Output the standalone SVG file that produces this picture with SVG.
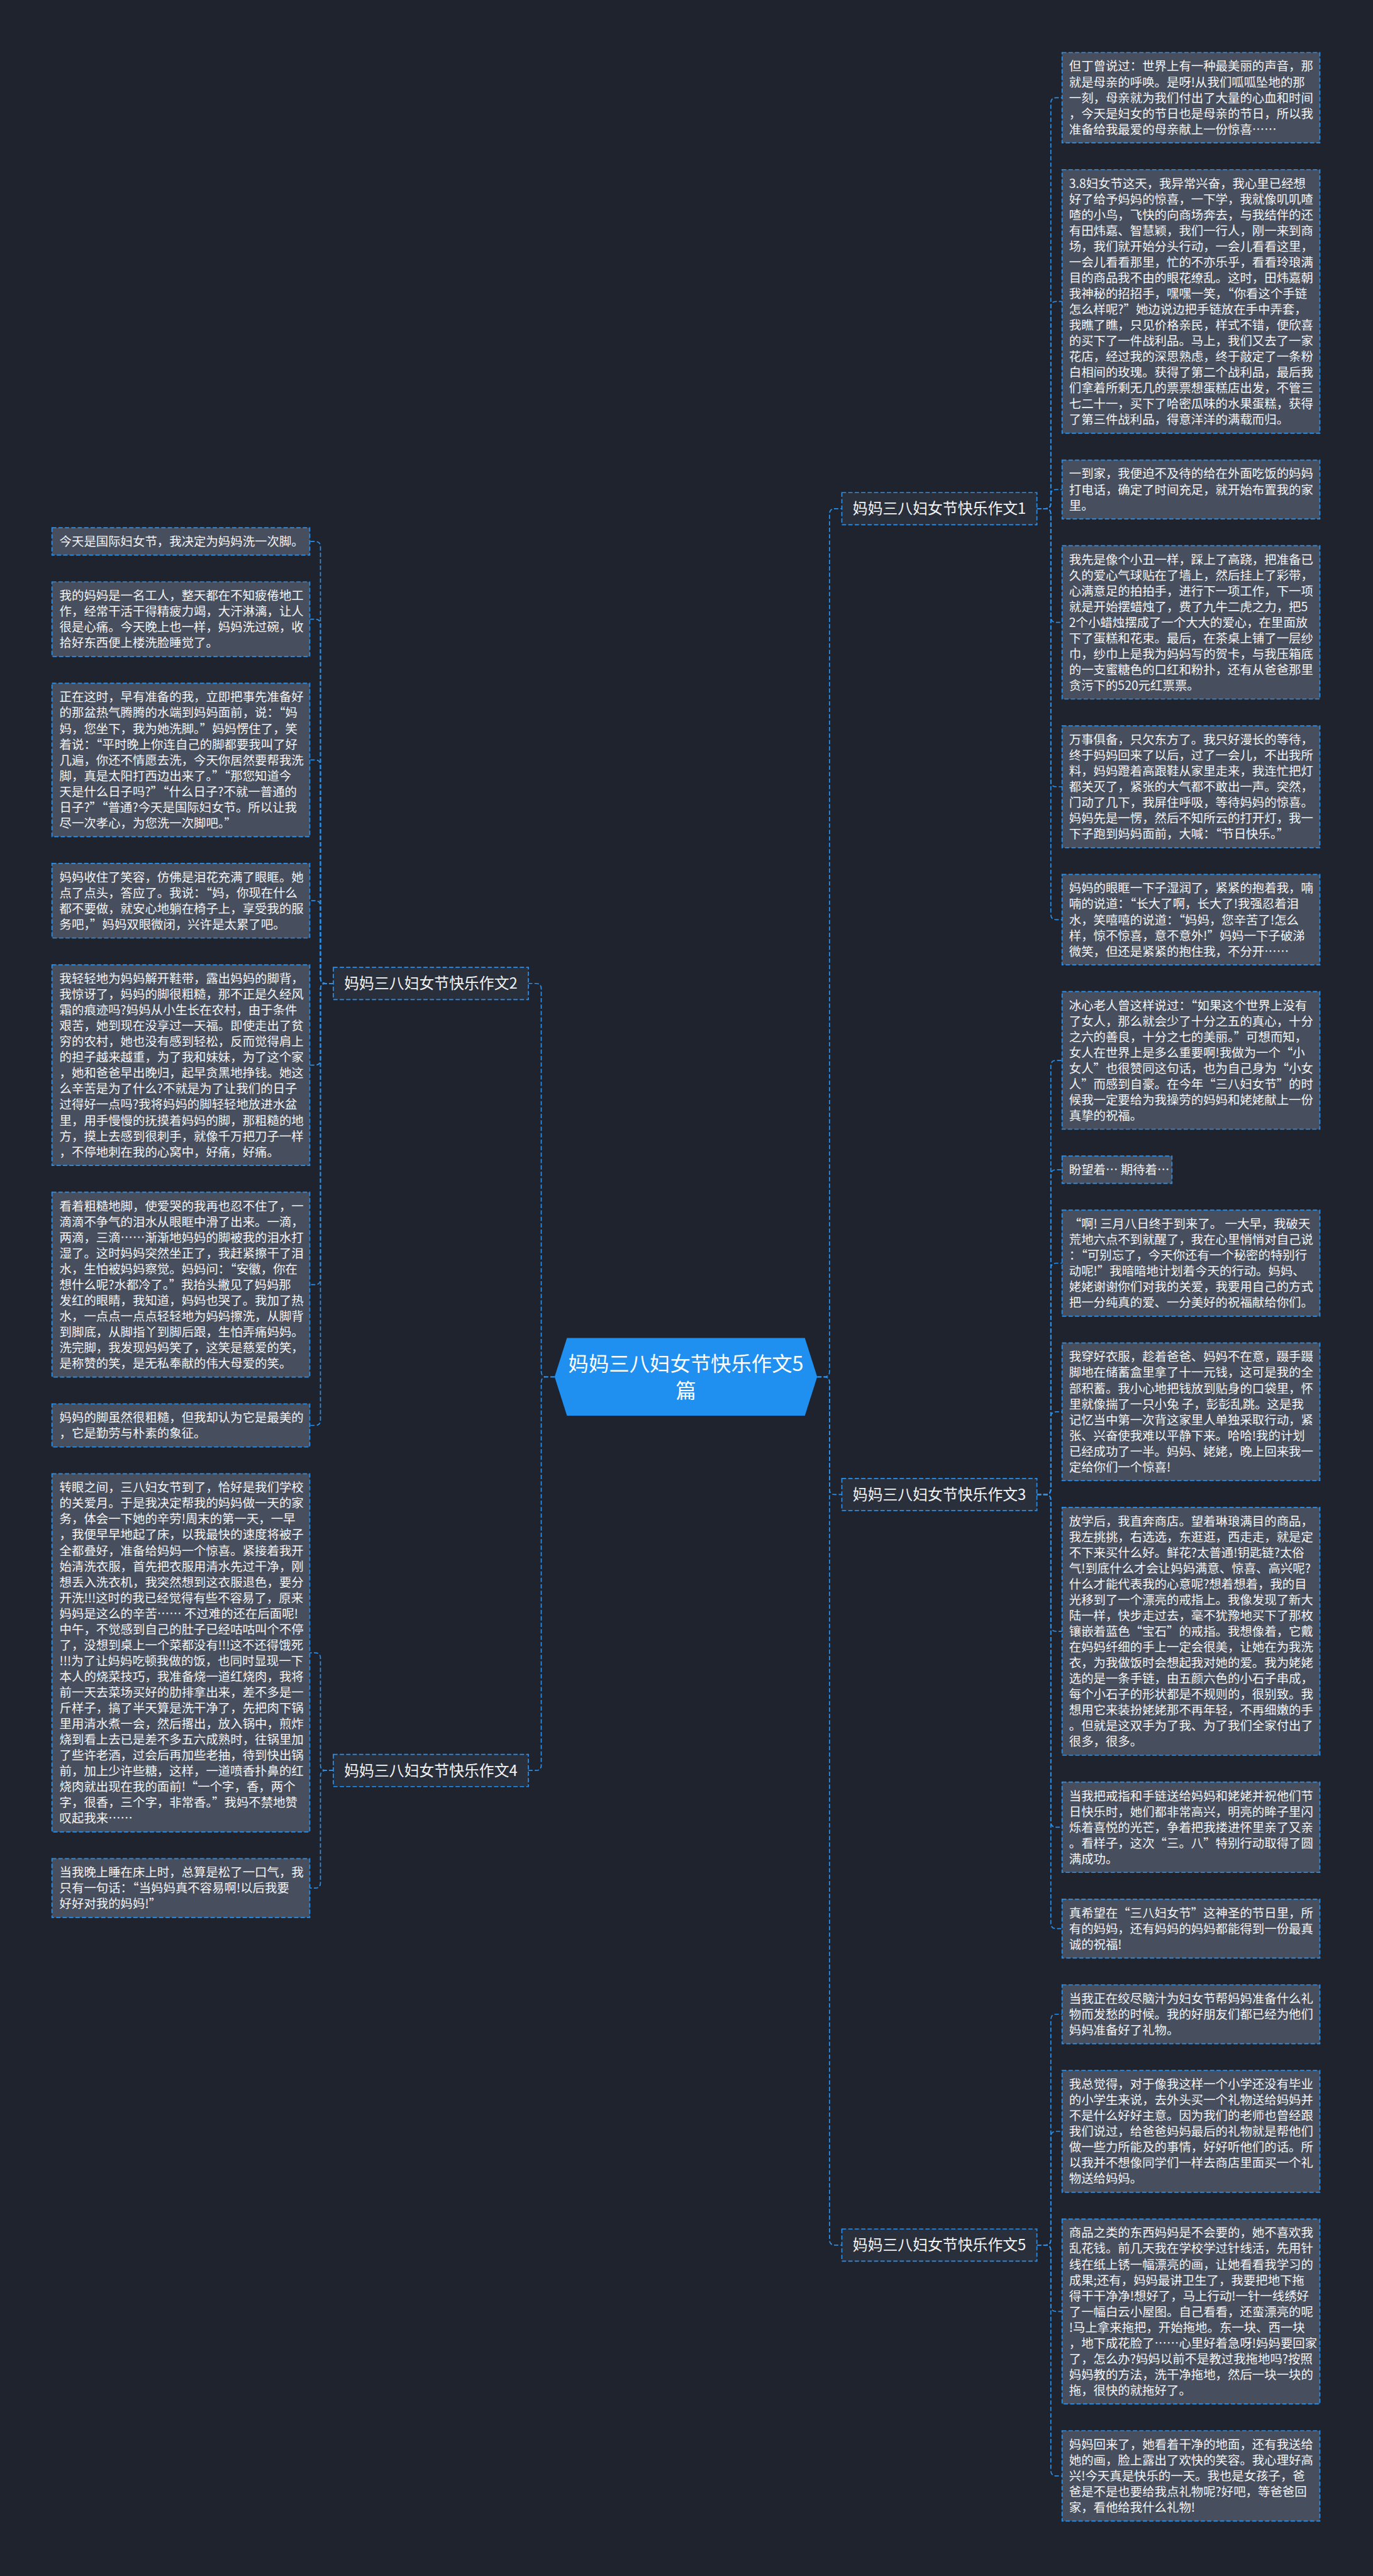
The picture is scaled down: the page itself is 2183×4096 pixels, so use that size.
<svg xmlns="http://www.w3.org/2000/svg" width="2183" height="4096" viewBox="0 0 2183 4096">
<style>
.leaf{fill:#474f5f;stroke:#2d8fe6;stroke-width:2;stroke-dasharray:8 4}
.lt{fill:#f4f4f4;font-size:22.8px;font-family:"Noto Sans CJK SC","Noto Sans",sans-serif}
.conn{fill:none;stroke:#2d8fe6;stroke-width:2;stroke-dasharray:8 4}
.br{fill:#2a2f3c;stroke:#2d8fe6;stroke-width:2;stroke-dasharray:8 4}
.bt{fill:#f4f4f4;font-size:28px;font-family:"Noto Sans CJK SC","Noto Sans",sans-serif;text-anchor:middle}
.ct{fill:#ffffff;font-size:38px;font-family:"Noto Sans CJK SC","Noto Sans",sans-serif;text-anchor:middle}
</style>
<rect width="2183" height="4096" fill="#1f232e"/>
<g transform="scale(0.852)">
<g id="connectors">
<path class="conn" d="M1525 2569.6H1538Q1548 2569.6 1548 2559.6V959.3Q1548 949.3 1558 949.3H1571"/>
<path class="conn" d="M1525 2569.6H1538Q1548 2569.6 1548 2579.6V2779.2Q1548 2789.2 1558 2789.2H1571"/>
<path class="conn" d="M1525 2569.6H1538Q1548 2569.6 1548 2579.6V4179.9Q1548 4189.9 1558 4189.9H1571"/>
<path class="conn" d="M1035 2569.6H1020Q1010 2569.6 1010 2559.6V1845.4Q1010 1835.4 1000 1835.4H986"/>
<path class="conn" d="M1035 2569.6H1020Q1010 2569.6 1010 2579.6V3294.2Q1010 3304.2 1000 3304.2H986"/>
<path class="conn" d="M1935 949.3H1951Q1961 949.3 1961 939.3V192.3Q1961 182.3 1971 182.3H1982"/>
<path class="conn" d="M1935 949.3H1951Q1961 949.3 1961 939.3V572.6Q1961 562.6 1971 562.6H1982"/>
<path class="conn" d="M1935 949.3H1951Q1961 949.3 1961 939.3V923.5Q1961 913.5 1971 913.5H1982"/>
<path class="conn" d="M1935 949.3H1951Q1961 949.3 1961 959.3V1151.5Q1961 1161.5 1971 1161.5H1982"/>
<path class="conn" d="M1935 949.3H1951Q1961 949.3 1961 959.3V1458.3Q1961 1468.3 1971 1468.3H1982"/>
<path class="conn" d="M1935 949.3H1951Q1961 949.3 1961 959.3V1706.3Q1961 1716.3 1971 1716.3H1982"/>
<path class="conn" d="M1935 2789.2H1951Q1961 2789.2 1961 2779.2V1989Q1961 1979 1971 1979H1982"/>
<path class="conn" d="M1935 2789.2H1951Q1961 2789.2 1961 2779.2V2192.9Q1961 2182.9 1971 2182.9H1982"/>
<path class="conn" d="M1935 2789.2H1951Q1961 2789.2 1961 2779.2V2367.4Q1961 2357.4 1971 2357.4H1982"/>
<path class="conn" d="M1935 2789.2H1951Q1961 2789.2 1961 2779.2V2644.8Q1961 2634.8 1971 2634.8H1982"/>
<path class="conn" d="M1935 2789.2H1951Q1961 2789.2 1961 2799.2V3034.5Q1961 3044.5 1971 3044.5H1982"/>
<path class="conn" d="M1935 2789.2H1951Q1961 2789.2 1961 2799.2V3400.1Q1961 3410.1 1971 3410.1H1982"/>
<path class="conn" d="M1935 2789.2H1951Q1961 2789.2 1961 2799.2V3589.3Q1961 3599.3 1971 3599.3H1982"/>
<path class="conn" d="M1935 4189.9H1951Q1961 4189.9 1961 4179.9V3769.1Q1961 3759.1 1971 3759.1H1982"/>
<path class="conn" d="M1935 4189.9H1951Q1961 4189.9 1961 4179.9V3987.7Q1961 3977.7 1971 3977.7H1982"/>
<path class="conn" d="M1935 4189.9H1951Q1961 4189.9 1961 4199.9V4303.9Q1961 4313.9 1971 4313.9H1982"/>
<path class="conn" d="M1935 4189.9H1951Q1961 4189.9 1961 4199.9V4610.7Q1961 4620.7 1971 4620.7H1982"/>
<path class="conn" d="M622 1835.4H608Q598 1835.4 598 1825.4V1020.5Q598 1010.5 588 1010.5H578"/>
<path class="conn" d="M622 1835.4H608Q598 1835.4 598 1825.4V1165.6Q598 1155.6 588 1155.6H578"/>
<path class="conn" d="M622 1835.4H608Q598 1835.4 598 1825.4V1428.3Q598 1418.3 588 1418.3H578"/>
<path class="conn" d="M622 1835.4H608Q598 1835.4 598 1825.4V1691Q598 1681 588 1681H578"/>
<path class="conn" d="M622 1835.4H608Q598 1835.4 598 1845.4V1977.8Q598 1987.8 588 1987.8H578"/>
<path class="conn" d="M622 1835.4H608Q598 1835.4 598 1845.4V2387.5Q598 2397.5 588 2397.5H578"/>
<path class="conn" d="M622 1835.4H608Q598 1835.4 598 1845.4V2650.2Q598 2660.2 588 2660.2H578"/>
<path class="conn" d="M622 3304.2H608Q598 3304.2 598 3294.2V3094.6Q598 3084.6 588 3084.6H578"/>
<path class="conn" d="M622 3304.2H608Q598 3304.2 598 3314.2V3513.7Q598 3523.7 588 3523.7H578"/>
</g>
<g id="center">
<polygon points="1035,2569.6 1058,2497 1502,2497 1525,2569.6 1502,2642 1058,2642" fill="#1f8ff0"/>
<text class="ct" x="1280" y="2559">妈妈三八妇女节快乐作文5</text>
<text class="ct" x="1280" y="2609">篇</text>
</g>
<g id="branch1"><rect class="br" x="1571" y="919.3" width="364" height="60"/><text class="bt" x="1753" y="959.3">妈妈三八妇女节快乐作文1</text></g>
<g id="branch2"><rect class="br" x="622" y="1805.4" width="364" height="60"/><text class="bt" x="804" y="1845.4">妈妈三八妇女节快乐作文2</text></g>
<g id="branch3"><rect class="br" x="1571" y="2759.2" width="364" height="60"/><text class="bt" x="1753" y="2799.2">妈妈三八妇女节快乐作文3</text></g>
<g id="branch4"><rect class="br" x="622" y="3274.2" width="364" height="60"/><text class="bt" x="804" y="3314.2">妈妈三八妇女节快乐作文4</text></g>
<g id="branch5"><rect class="br" x="1571" y="4159.9" width="364" height="60"/><text class="bt" x="1753" y="4199.9">妈妈三八妇女节快乐作文5</text></g>

<g id="r1"><rect class="leaf" x="1982" y="98" width="481" height="168.6"/><text class="lt" x="1995" y="132"><tspan>但丁曾说过：世界上有一种最美丽的声音，那</tspan><tspan x="1995" dy="29.4">就是母亲的呼唤。是呀!从我们呱呱坠地的那</tspan><tspan x="1995" dy="29.4">一刻，母亲就为我们付出了大量的心血和时间</tspan><tspan x="1995" dy="29.4">，今天是妇女的节日也是母亲的节日，所以我</tspan><tspan x="1995" dy="29.4">准备给我最爱的母亲献上一份惊喜……</tspan></text></g>
<g id="r2"><rect class="leaf" x="1982" y="316.6" width="481" height="492"/><text class="lt" x="1995" y="350.6"><tspan>3.8妇女节这天，我异常兴奋，我心里已经想</tspan><tspan x="1995" dy="29.4">好了给予妈妈的惊喜，一下学，我就像叽叽喳</tspan><tspan x="1995" dy="29.4">喳的小鸟，飞快的向商场奔去，与我结伴的还</tspan><tspan x="1995" dy="29.4">有田炜嘉、智慧颖，我们一行人，刚一来到商</tspan><tspan x="1995" dy="29.4">场，我们就开始分头行动，一会儿看看这里，</tspan><tspan x="1995" dy="29.4">一会儿看看那里，忙的不亦乐乎，看看玲琅满</tspan><tspan x="1995" dy="29.4">目的商品我不由的眼花缭乱。这时，田炜嘉朝</tspan><tspan x="1995" dy="29.4">我神秘的招招手，嘿嘿一笑，“你看这个手链</tspan><tspan x="1995" dy="29.4">怎么样呢?”她边说边把手链放在手中弄套，</tspan><tspan x="1995" dy="29.4">我瞧了瞧，只见价格亲民，样式不错，便欣喜</tspan><tspan x="1995" dy="29.4">的买下了一件战利品。马上，我们又去了一家</tspan><tspan x="1995" dy="29.4">花店，经过我的深思熟虑，终于敲定了一条粉</tspan><tspan x="1995" dy="29.4">白相间的玫瑰。获得了第二个战利品，最后我</tspan><tspan x="1995" dy="29.4">们拿着所剩无几的票票想蛋糕店出发，不管三</tspan><tspan x="1995" dy="29.4">七二十一，买下了哈密瓜味的水果蛋糕，获得</tspan><tspan x="1995" dy="29.4">了第三件战利品，得意洋洋的满载而归。</tspan></text></g>
<g id="r3"><rect class="leaf" x="1982" y="858.6" width="481" height="109.8"/><text class="lt" x="1995" y="892.6"><tspan>一到家，我便迫不及待的给在外面吃饭的妈妈</tspan><tspan x="1995" dy="29.4">打电话，确定了时间充足，就开始布置我的家</tspan><tspan x="1995" dy="29.4">里。</tspan></text></g>
<g id="r4"><rect class="leaf" x="1982" y="1018.4" width="481" height="286.2"/><text class="lt" x="1995" y="1052.4"><tspan>我先是像个小丑一样，踩上了高跷，把准备已</tspan><tspan x="1995" dy="29.4">久的爱心气球贴在了墙上，然后挂上了彩带，</tspan><tspan x="1995" dy="29.4">心满意足的拍拍手，进行下一项工作，下一项</tspan><tspan x="1995" dy="29.4">就是开始摆蜡烛了，费了九牛二虎之力，把5</tspan><tspan x="1995" dy="29.4">2个小蜡烛摆成了一个大大的爱心，在里面放</tspan><tspan x="1995" dy="29.4">下了蛋糕和花束。最后，在茶桌上铺了一层纱</tspan><tspan x="1995" dy="29.4">巾，纱巾上是我为妈妈写的贺卡，与我压箱底</tspan><tspan x="1995" dy="29.4">的一支蜜糖色的口红和粉扑，还有从爸爸那里</tspan><tspan x="1995" dy="29.4">贪污下的520元红票票。</tspan></text></g>
<g id="r5"><rect class="leaf" x="1982" y="1354.6" width="481" height="227.4"/><text class="lt" x="1995" y="1388.6"><tspan>万事俱备，只欠东方了。我只好漫长的等待，</tspan><tspan x="1995" dy="29.4">终于妈妈回来了以后，过了一会儿，不出我所</tspan><tspan x="1995" dy="29.4">料，妈妈蹬着高跟鞋从家里走来，我连忙把灯</tspan><tspan x="1995" dy="29.4">都关灭了，紧张的大气都不敢出一声。突然，</tspan><tspan x="1995" dy="29.4">门动了几下，我屏住呼吸，等待妈妈的惊喜。</tspan><tspan x="1995" dy="29.4">妈妈先是一愣，然后不知所云的打开灯，我一</tspan><tspan x="1995" dy="29.4">下子跑到妈妈面前，大喊：“节日快乐。”</tspan></text></g>
<g id="r6"><rect class="leaf" x="1982" y="1632" width="481" height="168.6"/><text class="lt" x="1995" y="1666"><tspan>妈妈的眼眶一下子湿润了，紧紧的抱着我，喃</tspan><tspan x="1995" dy="29.4">喃的说道：“长大了啊，长大了!我强忍着泪</tspan><tspan x="1995" dy="29.4">水，笑嘻嘻的说道：“妈妈，您辛苦了!怎么</tspan><tspan x="1995" dy="29.4">样，惊不惊喜，意不意外!”妈妈一下子破涕</tspan><tspan x="1995" dy="29.4">微笑，但还是紧紧的抱住我，不分开……</tspan></text></g>
<g id="r7"><rect class="leaf" x="1982" y="1850.6" width="481" height="256.8"/><text class="lt" x="1995" y="1884.6"><tspan>冰心老人曾这样说过：“如果这个世界上没有</tspan><tspan x="1995" dy="29.4">了女人，那么就会少了十分之五的真心，十分</tspan><tspan x="1995" dy="29.4">之六的善良，十分之七的美丽。”可想而知，</tspan><tspan x="1995" dy="29.4">女人在世界上是多么重要啊!我做为一个“小</tspan><tspan x="1995" dy="29.4">女人”也很赞同这句话，也为自己身为“小女</tspan><tspan x="1995" dy="29.4">人”而感到自豪。在今年“三八妇女节”的时</tspan><tspan x="1995" dy="29.4">候我一定要给为我操劳的妈妈和姥姥献上一份</tspan><tspan x="1995" dy="29.4">真挚的祝福。</tspan></text></g>
<g id="r8"><rect class="leaf" x="1982" y="2157.4" width="205" height="51"/><text class="lt" x="1995" y="2191.4">盼望着… 期待着…</text></g>
<g id="r9"><rect class="leaf" x="1982" y="2258.4" width="481" height="198"/><text class="lt" x="1995" y="2292.4"><tspan>“啊! 三月八日终于到来了。 一大早，我破天</tspan><tspan x="1995" dy="29.4">荒地六点不到就醒了，我在心里悄悄对自己说</tspan><tspan x="1995" dy="29.4">：“可别忘了，今天你还有一个秘密的特别行</tspan><tspan x="1995" dy="29.4">动呢!”我暗暗地计划着今天的行动。妈妈、</tspan><tspan x="1995" dy="29.4">姥姥谢谢你们对我的关爱，我要用自己的方式</tspan><tspan x="1995" dy="29.4">把一分纯真的爱、一分美好的祝福献给你们。</tspan></text></g>
<g id="r10"><rect class="leaf" x="1982" y="2506.4" width="481" height="256.8"/><text class="lt" x="1995" y="2540.4"><tspan>我穿好衣服，趁着爸爸、妈妈不在意，蹑手蹑</tspan><tspan x="1995" dy="29.4">脚地在储蓄盒里拿了十一元钱，这可是我的全</tspan><tspan x="1995" dy="29.4">部积蓄。我小心地把钱放到贴身的口袋里，怀</tspan><tspan x="1995" dy="29.4">里就像揣了一只小兔 子，彭彭乱跳。这是我</tspan><tspan x="1995" dy="29.4">记忆当中第一次背这家里人单独采取行动，紧</tspan><tspan x="1995" dy="29.4">张、兴奋使我难以平静下来。哈哈!我的计划</tspan><tspan x="1995" dy="29.4">已经成功了一半。妈妈、姥姥，晚上回来我一</tspan><tspan x="1995" dy="29.4">定给你们一个惊喜!</tspan></text></g>
<g id="r11"><rect class="leaf" x="1982" y="2813.2" width="481" height="462.6"/><text class="lt" x="1995" y="2847.2"><tspan>放学后，我直奔商店。望着琳琅满目的商品，</tspan><tspan x="1995" dy="29.4">我左挑挑，右选选，东逛逛，西走走，就是定</tspan><tspan x="1995" dy="29.4">不下来买什么好。鲜花?太普通!钥匙链?太俗</tspan><tspan x="1995" dy="29.4">气!到底什么才会让妈妈满意、惊喜、高兴呢?</tspan><tspan x="1995" dy="29.4">什么才能代表我的心意呢?想着想着，我的目</tspan><tspan x="1995" dy="29.4">光移到了一个漂亮的戒指上。我像发现了新大</tspan><tspan x="1995" dy="29.4">陆一样，快步走过去，毫不犹豫地买下了那枚</tspan><tspan x="1995" dy="29.4">镶嵌着蓝色“宝石”的戒指。我想像着，它戴</tspan><tspan x="1995" dy="29.4">在妈妈纤细的手上一定会很美，让她在为我洗</tspan><tspan x="1995" dy="29.4">衣，为我做饭时会想起我对她的爱。我为姥姥</tspan><tspan x="1995" dy="29.4">选的是一条手链，由五颜六色的小石子串成，</tspan><tspan x="1995" dy="29.4">每个小石子的形状都是不规则的，很别致。我</tspan><tspan x="1995" dy="29.4">想用它来装扮姥姥那不再年轻，不再细嫩的手</tspan><tspan x="1995" dy="29.4">。但就是这双手为了我、为了我们全家付出了</tspan><tspan x="1995" dy="29.4">很多，很多。</tspan></text></g>
<g id="r12"><rect class="leaf" x="1982" y="3325.8" width="481" height="168.6"/><text class="lt" x="1995" y="3359.8"><tspan>当我把戒指和手链送给妈妈和姥姥并祝他们节</tspan><tspan x="1995" dy="29.4">日快乐时，她们都非常高兴，明亮的眸子里闪</tspan><tspan x="1995" dy="29.4">烁着喜悦的光芒，争着把我搂进怀里亲了又亲</tspan><tspan x="1995" dy="29.4">。看样子，这次“三。八”特别行动取得了圆</tspan><tspan x="1995" dy="29.4">满成功。</tspan></text></g>
<g id="r13"><rect class="leaf" x="1982" y="3544.4" width="481" height="109.8"/><text class="lt" x="1995" y="3578.4"><tspan>真希望在“三八妇女节”这神圣的节日里，所</tspan><tspan x="1995" dy="29.4">有的妈妈，还有妈妈的妈妈都能得到一份最真</tspan><tspan x="1995" dy="29.4">诚的祝福!</tspan></text></g>
<g id="r14"><rect class="leaf" x="1982" y="3704.2" width="481" height="109.8"/><text class="lt" x="1995" y="3738.2"><tspan>当我正在绞尽脑汁为妇女节帮妈妈准备什么礼</tspan><tspan x="1995" dy="29.4">物而发愁的时候。我的好朋友们都已经为他们</tspan><tspan x="1995" dy="29.4">妈妈准备好了礼物。</tspan></text></g>
<g id="r15"><rect class="leaf" x="1982" y="3864" width="481" height="227.4"/><text class="lt" x="1995" y="3898"><tspan>我总觉得，对于像我这样一个小学还没有毕业</tspan><tspan x="1995" dy="29.4">的小学生来说，去外头买一个礼物送给妈妈并</tspan><tspan x="1995" dy="29.4">不是什么好好主意。因为我们的老师也曾经跟</tspan><tspan x="1995" dy="29.4">我们说过，给爸爸妈妈最后的礼物就是帮他们</tspan><tspan x="1995" dy="29.4">做一些力所能及的事情，好好听他们的话。所</tspan><tspan x="1995" dy="29.4">以我并不想像同学们一样去商店里面买一个礼</tspan><tspan x="1995" dy="29.4">物送给妈妈。</tspan></text></g>
<g id="r16"><rect class="leaf" x="1982" y="4141.4" width="481" height="345"/><text class="lt" x="1995" y="4175.4"><tspan>商品之类的东西妈妈是不会要的，她不喜欢我</tspan><tspan x="1995" dy="29.4">乱花钱。前几天我在学校学过针线活，先用针</tspan><tspan x="1995" dy="29.4">线在纸上锈一幅漂亮的画，让她看看我学习的</tspan><tspan x="1995" dy="29.4">成果;还有，妈妈最讲卫生了，我要把地下拖</tspan><tspan x="1995" dy="29.4">得干干净净!想好了，马上行动!一针一线绣好</tspan><tspan x="1995" dy="29.4">了一幅白云小屋图。自己看看，还蛮漂亮的呢</tspan><tspan x="1995" dy="29.4">!马上拿来拖把，开始拖地。东一块、西一块</tspan><tspan x="1995" dy="29.4">，地下成花脸了……心里好着急呀!妈妈要回家</tspan><tspan x="1995" dy="29.4">了，怎么办?妈妈以前不是教过我拖地吗?按照</tspan><tspan x="1995" dy="29.4">妈妈教的方法，洗干净拖地，然后一块一块的</tspan><tspan x="1995" dy="29.4">拖，很快的就拖好了。</tspan></text></g>
<g id="r17"><rect class="leaf" x="1982" y="4536.4" width="481" height="168.6"/><text class="lt" x="1995" y="4570.4"><tspan>妈妈回来了，她看着干净的地面，还有我送给</tspan><tspan x="1995" dy="29.4">她的画，脸上露出了欢快的笑容。我心理好高</tspan><tspan x="1995" dy="29.4">兴!今天真是快乐的一天。我也是女孩子，爸</tspan><tspan x="1995" dy="29.4">爸是不是也要给我点礼物呢?好吧，等爸爸回</tspan><tspan x="1995" dy="29.4">家，看他给我什么礼物!</tspan></text></g>

<g id="l1"><rect class="leaf" x="97" y="985" width="481" height="51"/><text class="lt" x="111" y="1019">今天是国际妇女节，我决定为妈妈洗一次脚。</text></g>
<g id="l2"><rect class="leaf" x="97" y="1086" width="481" height="139.2"/><text class="lt" x="111" y="1120"><tspan>我的妈妈是一名工人，整天都在不知疲倦地工</tspan><tspan x="111" dy="29.4">作，经常干活干得精疲力竭，大汗淋漓，让人</tspan><tspan x="111" dy="29.4">很是心痛。今天晚上也一样，妈妈洗过碗，收</tspan><tspan x="111" dy="29.4">拾好东西便上楼洗脸睡觉了。</tspan></text></g>
<g id="l3"><rect class="leaf" x="97" y="1275.2" width="481" height="286.2"/><text class="lt" x="111" y="1309.2"><tspan>正在这时，早有准备的我，立即把事先准备好</tspan><tspan x="111" dy="29.4">的那盆热气腾腾的水端到妈妈面前，说：“妈</tspan><tspan x="111" dy="29.4">妈，您坐下，我为她洗脚。”妈妈愣住了，笑</tspan><tspan x="111" dy="29.4">着说：“平时晚上你连自己的脚都要我叫了好</tspan><tspan x="111" dy="29.4">几遍，你还不情愿去洗，今天你居然要帮我洗</tspan><tspan x="111" dy="29.4">脚，真是太阳打西边出来了。”“那您知道今</tspan><tspan x="111" dy="29.4">天是什么日子吗?”“什么日子?不就一普通的</tspan><tspan x="111" dy="29.4">日子?”“普通?今天是国际妇女节。所以让我</tspan><tspan x="111" dy="29.4">尽一次孝心，为您洗一次脚吧。”</tspan></text></g>
<g id="l4"><rect class="leaf" x="97" y="1611.4" width="481" height="139.2"/><text class="lt" x="111" y="1645.4"><tspan>妈妈收住了笑容，仿佛是泪花充满了眼眶。她</tspan><tspan x="111" dy="29.4">点了点头，答应了。我说：“妈，你现在什么</tspan><tspan x="111" dy="29.4">都不要做，就安心地躺在椅子上，享受我的服</tspan><tspan x="111" dy="29.4">务吧，”妈妈双眼微闭，兴许是太累了吧。</tspan></text></g>
<g id="l5"><rect class="leaf" x="97" y="1800.6" width="481" height="374.4"/><text class="lt" x="111" y="1834.6"><tspan>我轻轻地为妈妈解开鞋带，露出妈妈的脚背，</tspan><tspan x="111" dy="29.4">我惊讶了，妈妈的脚很粗糙，那不正是久经风</tspan><tspan x="111" dy="29.4">霜的痕迹吗?妈妈从小生长在农村，由于条件</tspan><tspan x="111" dy="29.4">艰苦，她到现在没享过一天福。即使走出了贫</tspan><tspan x="111" dy="29.4">穷的农村，她也没有感到轻松，反而觉得肩上</tspan><tspan x="111" dy="29.4">的担子越来越重，为了我和妹妹，为了这个家</tspan><tspan x="111" dy="29.4">，她和爸爸早出晚归，起早贪黑地挣钱。她这</tspan><tspan x="111" dy="29.4">么辛苦是为了什么?不就是为了让我们的日子</tspan><tspan x="111" dy="29.4">过得好一点吗?我将妈妈的脚轻轻地放进水盆</tspan><tspan x="111" dy="29.4">里，用手慢慢的抚摸着妈妈的脚，那粗糙的地</tspan><tspan x="111" dy="29.4">方，摸上去感到很刺手，就像千万把刀子一样</tspan><tspan x="111" dy="29.4">，不停地刺在我的心窝中，好痛，好痛。</tspan></text></g>
<g id="l6"><rect class="leaf" x="97" y="2225" width="481" height="345"/><text class="lt" x="111" y="2259"><tspan>看着粗糙地脚，使爱哭的我再也忍不住了，一</tspan><tspan x="111" dy="29.4">滴滴不争气的泪水从眼眶中滑了出来。一滴，</tspan><tspan x="111" dy="29.4">两滴，三滴……渐渐地妈妈的脚被我的泪水打</tspan><tspan x="111" dy="29.4">湿了。这时妈妈突然坐正了，我赶紧擦干了泪</tspan><tspan x="111" dy="29.4">水，生怕被妈妈察觉。妈妈问：“安徽，你在</tspan><tspan x="111" dy="29.4">想什么呢?水都冷了。”我抬头撇见了妈妈那</tspan><tspan x="111" dy="29.4">发红的眼睛，我知道，妈妈也哭了。我加了热</tspan><tspan x="111" dy="29.4">水，一点点一点点轻轻地为妈妈擦洗，从脚背</tspan><tspan x="111" dy="29.4">到脚底，从脚指丫到脚后跟，生怕弄痛妈妈。</tspan><tspan x="111" dy="29.4">洗完脚，我发现妈妈笑了，这笑是慈爱的笑，</tspan><tspan x="111" dy="29.4">是称赞的笑，是无私奉献的伟大母爱的笑。</tspan></text></g>
<g id="l7"><rect class="leaf" x="97" y="2620" width="481" height="80.4"/><text class="lt" x="111" y="2654"><tspan>妈妈的脚虽然很粗糙，但我却认为它是最美的</tspan><tspan x="111" dy="29.4">，它是勤劳与朴素的象征。</tspan></text></g>
<g id="l8"><rect class="leaf" x="97" y="2750.4" width="481" height="668.4"/><text class="lt" x="111" y="2784.4"><tspan>转眼之间，三八妇女节到了，恰好是我们学校</tspan><tspan x="111" dy="29.4">的关爱月。于是我决定帮我的妈妈做一天的家</tspan><tspan x="111" dy="29.4">务，体会一下她的辛劳!周末的第一天，一早</tspan><tspan x="111" dy="29.4">，我便早早地起了床，以我最快的速度将被子</tspan><tspan x="111" dy="29.4">全都叠好，准备给妈妈一个惊喜。紧接着我开</tspan><tspan x="111" dy="29.4">始清洗衣服，首先把衣服用清水先过干净，刚</tspan><tspan x="111" dy="29.4">想丢入洗衣机，我突然想到这衣服退色，要分</tspan><tspan x="111" dy="29.4">开洗!!!这时的我已经觉得有些不容易了，原来</tspan><tspan x="111" dy="29.4">妈妈是这么的辛苦…… 不过难的还在后面呢!</tspan><tspan x="111" dy="29.4">中午，不觉感到自己的肚子已经咕咕叫个不停</tspan><tspan x="111" dy="29.4">了，没想到桌上一个菜都没有!!!这不还得饿死</tspan><tspan x="111" dy="29.4">!!!为了让妈妈吃顿我做的饭，也同时显现一下</tspan><tspan x="111" dy="29.4">本人的烧菜技巧，我准备烧一道红烧肉，我将</tspan><tspan x="111" dy="29.4">前一天去菜场买好的肋排拿出来，差不多是一</tspan><tspan x="111" dy="29.4">斤样子，搞了半天算是洗干净了，先把肉下锅</tspan><tspan x="111" dy="29.4">里用清水煮一会，然后撂出，放入锅中，煎炸</tspan><tspan x="111" dy="29.4">烧到看上去已是差不多五六成熟时，往锅里加</tspan><tspan x="111" dy="29.4">了些许老酒，过会后再加些老抽，待到快出锅</tspan><tspan x="111" dy="29.4">前，加上少许些糖，这样，一道喷香扑鼻的红</tspan><tspan x="111" dy="29.4">烧肉就出现在我的面前!“一个字，香，两个</tspan><tspan x="111" dy="29.4">字，很香，三个字，非常香。”我妈不禁地赞</tspan><tspan x="111" dy="29.4">叹起我来……</tspan></text></g>
<g id="l9"><rect class="leaf" x="97" y="3468.8" width="481" height="109.8"/><text class="lt" x="111" y="3502.8"><tspan>当我晚上睡在床上时，总算是松了一口气，我</tspan><tspan x="111" dy="29.4">只有一句话：“当妈妈真不容易啊!以后我要</tspan><tspan x="111" dy="29.4">好好对我的妈妈!”</tspan></text></g>
</g>
</svg>
